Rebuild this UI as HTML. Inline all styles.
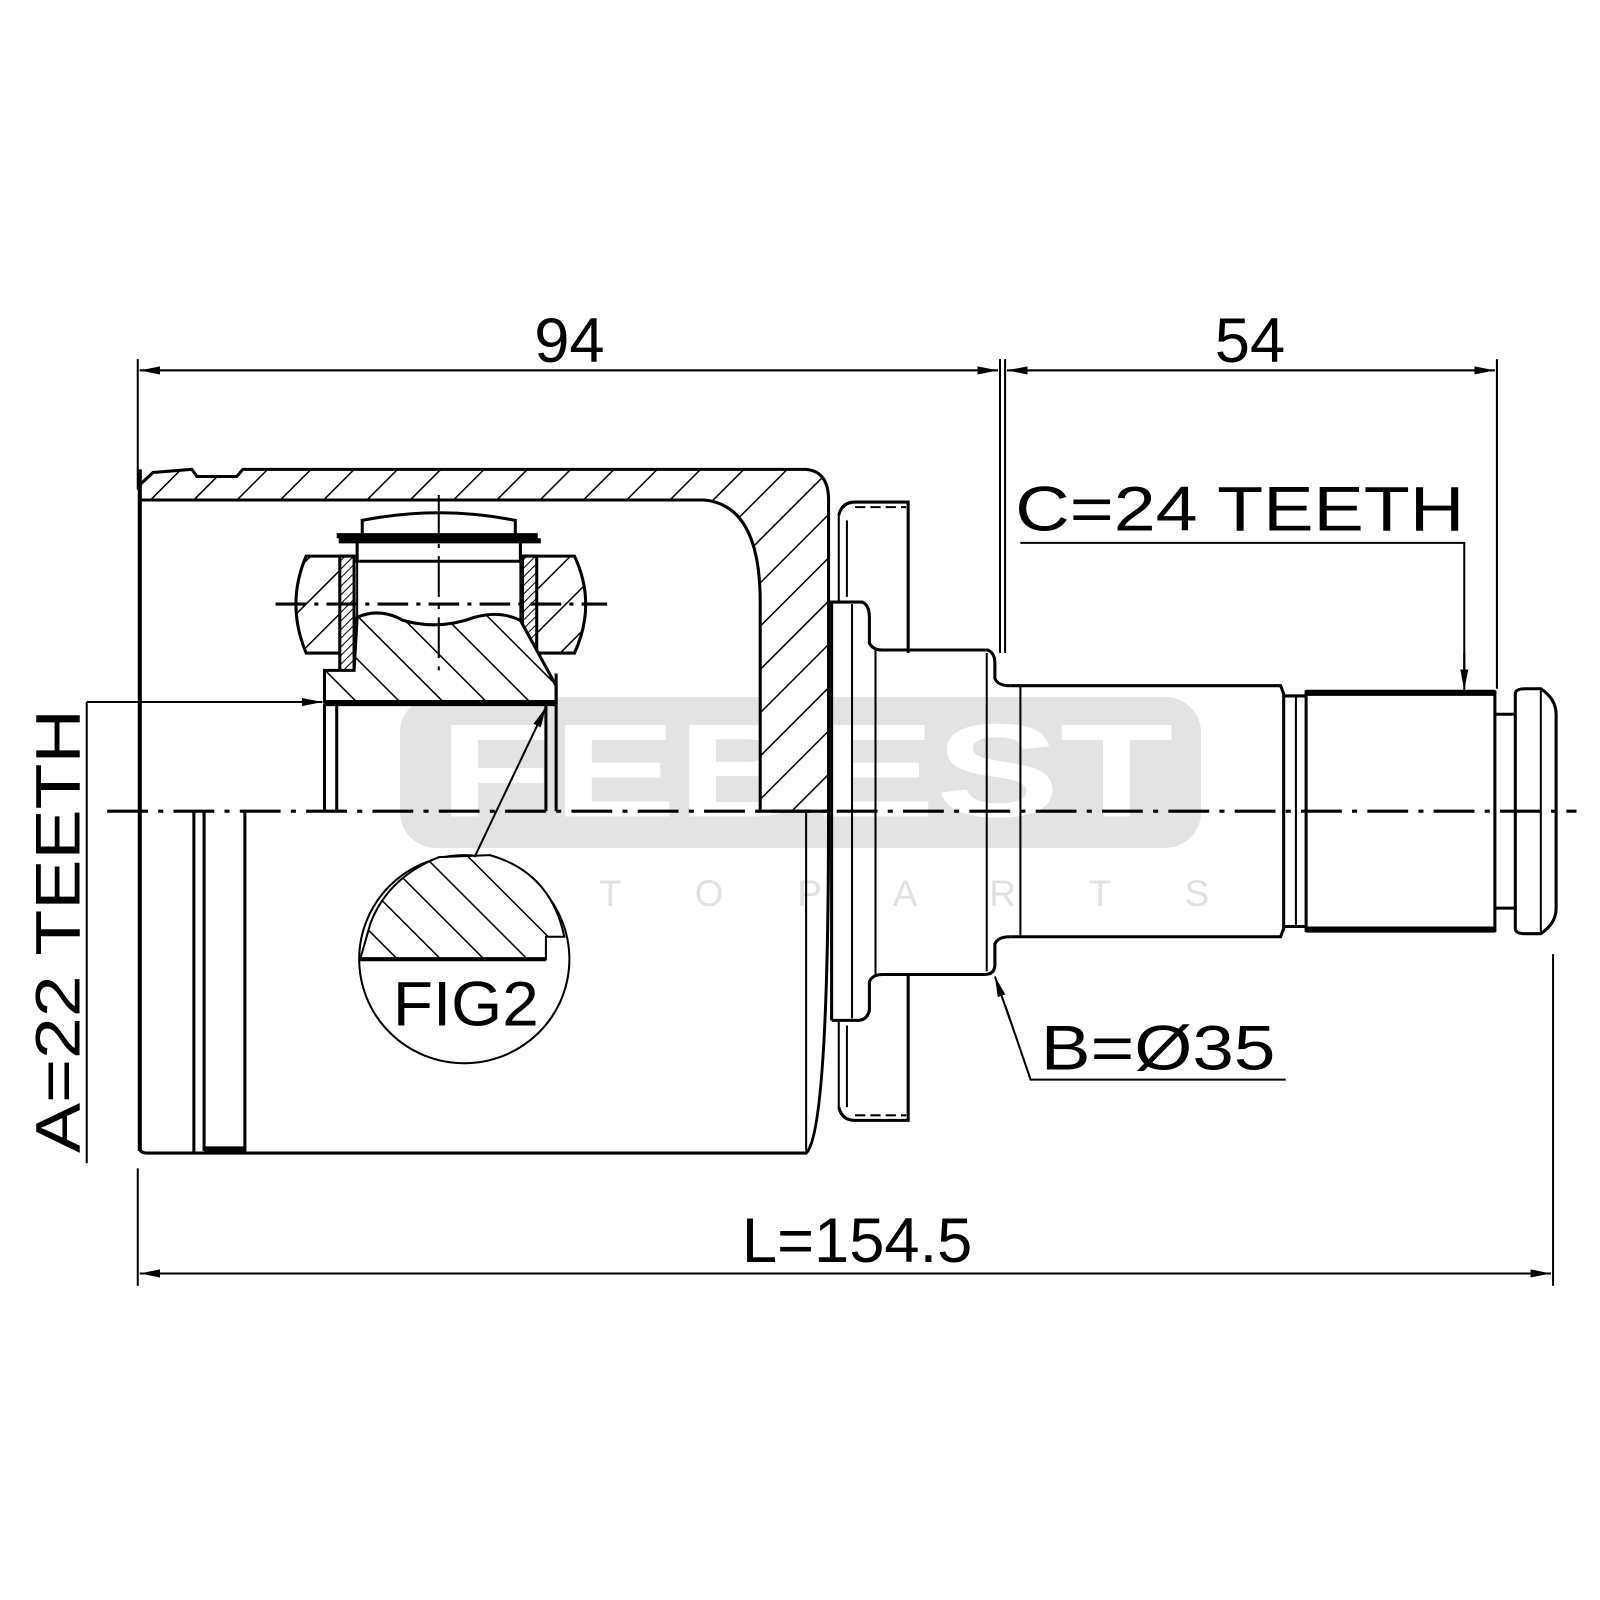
<!DOCTYPE html>
<html><head><meta charset="utf-8"><style>html,body{margin:0;padding:0;background:#fff}svg{display:block}</style></head>
<body>
<svg width="1600" height="1600" viewBox="0 0 1600 1600" xmlns="http://www.w3.org/2000/svg" font-family="Liberation Sans, sans-serif">
<defs>
<pattern id="h" patternUnits="userSpaceOnUse" width="30" height="30" patternTransform="rotate(45)">
<rect width="30" height="30" fill="#fff"/><line x1="0" y1="0" x2="0" y2="30" stroke="#000" stroke-width="3"/></pattern>
<pattern id="h2" patternUnits="userSpaceOnUse" width="30" height="30" patternTransform="rotate(-45)">
<rect width="30" height="30" fill="#fff"/><line x1="0" y1="0" x2="0" y2="30" stroke="#000" stroke-width="3"/></pattern>
<pattern id="hf" patternUnits="userSpaceOnUse" width="6" height="6" patternTransform="rotate(45)">
<rect width="6" height="6" fill="#fff"/><line x1="0" y1="0" x2="0" y2="6" stroke="#000" stroke-width="2"/></pattern>
<marker id="a" viewBox="0 0 20 10" refX="20" refY="5" markerWidth="20" markerHeight="10" markerUnits="userSpaceOnUse" orient="auto"><path d="M0,1 L20,5 L0,9z" fill="#000"/></marker>
</defs>
<g transform="scale(1.0204)">
<!-- watermark -->
<rect x="392" y="683" width="785" height="148" rx="35" fill="#e3e3e3"/>
<text x="430" y="800" font-size="130" font-weight="bold" fill="#fff" textLength="720" lengthAdjust="spacingAndGlyphs">FEBEST</text>
<text x="395" y="888" font-size="36" fill="#e0e0e0" textLength="790" lengthAdjust="spacing">A U T O P A R T S</text>

<g fill="none" stroke="#000" stroke-width="3">
<line x1="135" y1="352" x2="135" y2="480" stroke-width="2"/>
<line x1="980" y1="352" x2="980" y2="640" stroke-width="2"/>
<line x1="985" y1="352" x2="985" y2="640" stroke-width="2"/>
<line x1="1467" y1="352" x2="1467" y2="675" stroke-width="2"/>
<line x1="137" y1="363" x2="978" y2="363" stroke-width="2" marker-end="url(#a)"/>
<line x1="978" y1="363" x2="137" y2="363" stroke-width="2" marker-end="url(#a)"/>
<line x1="987" y1="363" x2="1465" y2="363" stroke-width="2" marker-end="url(#a)"/>
<line x1="1465" y1="363" x2="987" y2="363" stroke-width="2" marker-end="url(#a)"/>
<line x1="135" y1="1145" x2="135" y2="1260" stroke-width="2"/>
<line x1="1522" y1="935" x2="1522" y2="1260" stroke-width="2"/>
<line x1="137" y1="1248" x2="1520" y2="1248" stroke-width="2" marker-end="url(#a)"/>
<line x1="1520" y1="1248" x2="137" y2="1248" stroke-width="2" marker-end="url(#a)"/>

<path d="M137,475 L150,463 L188,460 L193,467 L232,467 L238,460 L790,460 Q812,462 812,490 L812,795 L745,795 L745,590 Q745,495 690,490 L137,490 Z" fill="url(#h)"/>
<line x1="137" y1="460" x2="137" y2="1128" stroke-width="4"/>
<path d="M137,795 L137,1125 Q137,1130 145,1130 L190,1130 L190,795 M200,795 L200,1128 M240,795 L240,1130 L790,1130 Q812,1110 812,795 M190,1130 L240,1130" />
<line x1="200" y1="1126" x2="240" y2="1126" stroke-width="5"/>
<line x1="790" y1="795" x2="790" y2="1128" stroke-width="2"/>

<path d="M300,545 L345,545 L345,640 L300,640 Q280,592 300,545Z" fill="url(#h)"/>
<path d="M515,545 L563,545 Q585,592 563,640 L515,640Z" fill="url(#h)"/>
<rect x="333" y="545" width="14" height="115" fill="url(#hf)"/>
<rect x="512" y="545" width="14" height="115" fill="url(#hf)"/>
<path d="M330,525 L527,525 M332,530 L530,530" stroke-width="5"/>
<path d="M355,525 L355,510 Q430,495 505,510 L505,525"/>
<path d="M350,532 L350,550 L510,550 L510,532"/>
<path d="M350,550 L350,605 Q372,595 395,608 Q430,618 465,605 Q490,598 510,608 L510,550" stroke-width="2"/>
<path d="M350,605 Q372,595 395,608 Q430,618 465,605 Q490,598 510,608 L545,672 L545,688 L318,688 L318,657 L347,657 Z" fill="url(#h2)"/>
<line x1="318" y1="689" x2="545" y2="689" stroke-width="6"/>
<path d="M318,690 L318,795 M330,690 L330,795 M535,690 L535,795 M545,660 L545,795"/>
<line x1="430" y1="485" x2="430" y2="665" stroke-width="2" stroke-dasharray="40,8,4,8"/>
<line x1="270" y1="592" x2="595" y2="592" stroke-width="3" stroke-dasharray="30,8,4,8"/>
<line x1="105" y1="795" x2="1545" y2="795" stroke-width="3" stroke-dasharray="40,10,5,10"/>

<path d="M822,505 Q825,492 838,492 L890,492 L890,640"/>
<path d="M830,510 L830,585 M822,505 L822,590" stroke-width="2"/>
<line x1="838" y1="497" x2="888" y2="497" stroke-width="2" stroke-dasharray="10,5"/>
<path d="M822,1085 Q825,1098 838,1098 L890,1098 L890,955"/>
<path d="M830,1005 L830,1085 M822,1000 L822,1085" stroke-width="2"/>
<line x1="838" y1="1093" x2="888" y2="1093" stroke-width="2" stroke-dasharray="10,5"/>
<path d="M815,1000 L815,590 L845,590 Q852,593 852,605 L852,630 Q855,637 865,637 L968,637 Q975,640 975,650 L975,665 Q978,672 990,672 M990,918 Q978,918 975,925 L975,945 Q975,955 965,955 L865,955 Q855,955 852,962 L852,990 Q850,1000 840,1000 L815,1000"/>
<line x1="835" y1="592" x2="835" y2="998" stroke-width="2"/>
<line x1="858" y1="637" x2="858" y2="955" stroke-width="2"/>
<line x1="967" y1="640" x2="967" y2="952" stroke-width="2"/>
<path d="M990,672 L1255,672 L1258,680 L1258,910 L1255,918 L990,918"/>
<line x1="1000" y1="673" x2="1000" y2="917" stroke-width="2"/>
<path d="M1258,682 L1280,682 M1258,908 L1280,908"/>
<line x1="1270" y1="682" x2="1270" y2="908" stroke-width="2"/>
<rect x="1280" y="678" width="185" height="234"/>
<line x1="1280" y1="679" x2="1465" y2="679" stroke-width="6"/>
<line x1="1280" y1="911" x2="1465" y2="911" stroke-width="6"/>
<path d="M1465,700 L1485,700 M1465,890 L1485,890"/>
<path d="M1485,680 Q1485,675 1495,675 L1510,675 Q1525,685 1525,700 L1525,890 Q1525,905 1510,915 L1495,915 Q1485,915 1485,910 Z"/>
<line x1="1510" y1="677" x2="1510" y2="913" stroke-width="2"/>

<ellipse cx="455" cy="940" rx="103" ry="102" stroke-width="2"/>
<path d="M363,905 Q380,860 430,840 L480,838 Q540,855 553,918 L535,918 L535,940 L353,940 Z" fill="url(#h2)" stroke-width="2"/>
<line x1="353" y1="940" x2="535" y2="940" stroke-width="4"/>
<line x1="465" y1="840" x2="535" y2="693" stroke-width="2" marker-end="url(#a)"/>

<line x1="85" y1="688" x2="85" y2="1140" stroke-width="2"/>
<line x1="85" y1="688" x2="316" y2="688" stroke-width="2" marker-end="url(#a)"/>
<path d="M1000,532 L1435,532 L1435,660" stroke-width="2"/>
<line x1="1435" y1="640" x2="1435" y2="676" stroke-width="2" marker-end="url(#a)"/>
<path d="M1260,1058 L1010,1058 L985,985" stroke-width="2"/>
<line x1="990" y1="1000" x2="975" y2="957" stroke-width="2" marker-end="url(#a)"/>
</g>

<g font-size="62" fill="#000">
<text x="558" y="355" text-anchor="middle">94</text>
<text x="1225" y="355" text-anchor="middle">54</text>
<text x="995" y="520" textLength="440" lengthAdjust="spacingAndGlyphs">C=24 TEETH</text>
<text x="1020" y="1048" textLength="230" lengthAdjust="spacingAndGlyphs">B=Ø35</text>
<text x="840" y="1237" text-anchor="middle">L=154.5</text>
<text x="385" y="1005" textLength="143" lengthAdjust="spacingAndGlyphs">FIG2</text>
<text transform="translate(78,1130) rotate(-90)" textLength="435" lengthAdjust="spacingAndGlyphs">A=22 TEETH</text>
</g>
</g>
</svg>
</body></html>
